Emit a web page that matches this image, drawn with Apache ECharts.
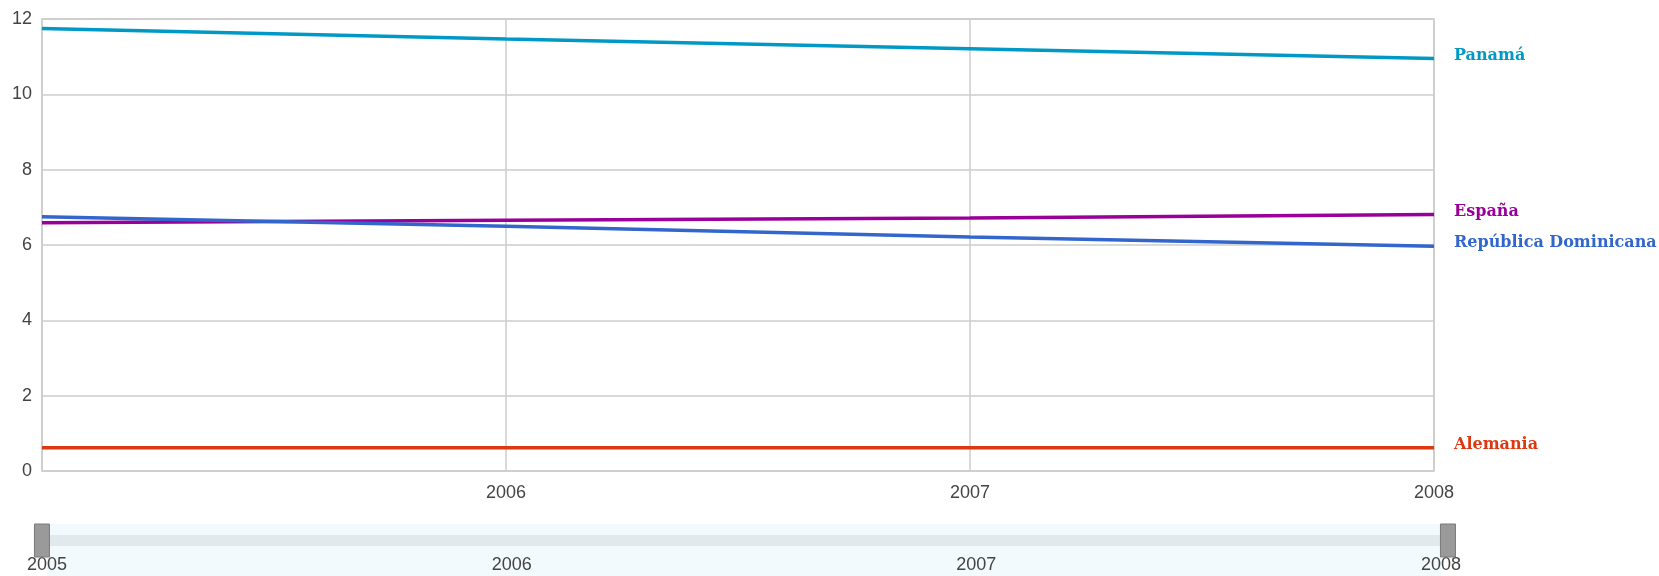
<!DOCTYPE html>
<html>
<head>
<meta charset="utf-8">
<script src="https://cdn.jsdelivr.net/npm/echarts@6/dist/echarts.min.js"></script>
<style>
  html, body { margin: 0; padding: 0; background: #fff; }
  #chart { width: 1659px; height: 576px; }
</style>
</head>
<body>
<div id="chart"></div>
<script>
// Years on the time axis
const years = [2005, 2006, 2007, 2008];

// Series values per year
const panama = [11.75, 11.47, 11.21, 10.95];
const espana = [6.59, 6.66, 6.72, 6.81];
const republicaDominicana = [6.75, 6.50, 6.21, 5.97];
const alemania = [0.62, 0.62, 0.62, 0.62];

// Series names and colours
const seriesDefs = [
  { name: 'Panamá', values: panama, color: '#0099c6' },
  { name: 'España', values: espana, color: '#990099' },
  { name: 'República Dominicana', values: republicaDominicana, color: '#3366cc' },
  { name: 'Alemania', values: alemania, color: '#dc3912' }
];

const chart = echarts.init(document.getElementById('chart'));

const labelFont = { color: '#444', fontSize: 18, fontFamily: 'Liberation Sans, Arial, sans-serif' };

chart.setOption({
  animation: false,
  grid: [
    { left: 42, right: 225, top: 19, bottom: 105, show: true, borderColor: '#cccccc', borderWidth: 1.5, backgroundColor: '#fff' },
    { left: 47, right: 218, top: 524, height: 52, show: true, borderWidth: 0, backgroundColor: '#f2fafd' }
  ],
  xAxis: [
    {
      type: 'value', gridIndex: 0, min: years[0], max: years[years.length - 1], interval: 1,
      axisLine: { show: false }, axisTick: { show: false },
      splitLine: { show: true, lineStyle: { color: '#cccccc', width: 1.5 } },
      axisLabel: Object.assign({ margin: 13, formatter: v => (v === years[0] ? '' : String(v)) }, labelFont)
    },
    {
      type: 'value', gridIndex: 1, min: years[0], max: years[years.length - 1], interval: 1,
      axisLine: { show: false }, axisTick: { show: false }, splitLine: { show: false },
      axisLabel: Object.assign({ inside: true, margin: 2, formatter: v => String(v) }, labelFont)
    }
  ],
  yAxis: [
    {
      type: 'value', gridIndex: 0, min: 0, max: 12, interval: 2,
      axisLine: { show: false }, axisTick: { show: false },
      splitLine: { show: true, lineStyle: { color: '#cccccc', width: 1.5 } },
      axisLabel: Object.assign({ margin: 10 }, labelFont)
    },
    { type: 'value', gridIndex: 1, show: false, min: 0, max: 1 }
  ],
  // Range selector strip under the chart; handles sit just outside the range ends
  dataZoom: [{
    type: 'slider', xAxisIndex: 1, filterMode: 'none', start: 0, end: 100,
    left: 40, right: 211, top: 535, height: 11,
    backgroundColor: 'transparent', borderColor: 'transparent',
    fillerColor: '#e2e9ec',
    dataBackground: { lineStyle: { opacity: 0 }, areaStyle: { opacity: 0 } },
    selectedDataBackground: { lineStyle: { opacity: 0 }, areaStyle: { opacity: 0 } },
    handleIcon: 'path://M0,0H15V33H0Z', handleSize: '300%',
    handleStyle: { color: '#9a9a9a', borderColor: '#7a7a7a', borderWidth: 1 },
    moveHandleSize: 0, showDetail: false, showDataShadow: false, brushSelect: false,
    zoomLock: true
  }],
  series: seriesDefs.map(s => ({
    name: s.name,
    type: 'line',
    xAxisIndex: 0, yAxisIndex: 0,
    data: years.map((y, i) => [y, s.values[i]]),
    showSymbol: false,
    symbol: 'none',
    lineStyle: { color: s.color, width: 3.5 },
    itemStyle: { color: s.color },
    endLabel: {
      show: true, formatter: '{a}', distance: 20, offset: [0, -3],
      color: s.color, fontWeight: 'bold', fontSize: 16,
      fontFamily: 'DejaVu Serif, serif'
    }
  }))
});
</script>
</body>
</html>
